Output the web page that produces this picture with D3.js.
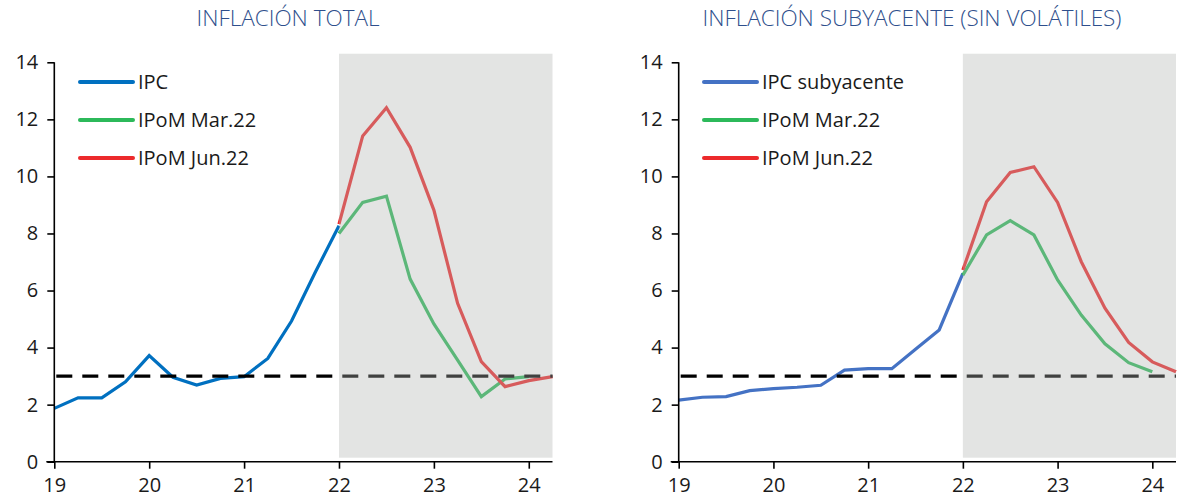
<!DOCTYPE html>
<html>
<head>
<meta charset="utf-8">
<script src="https://cdn.jsdelivr.net/npm/d3@7"></script>
<style>
  html, body { margin: 0; padding: 0; background: #fff; }
  svg { display: block; font-family: "Open Sans", "Noto Sans", sans-serif; }
</style>
</head>
<body>
<svg id="chart" width="1183" height="502"></svg>
<script>
// Quarterly dates (fractional years, 19 = 2019)
const histQuarters = [19, 19.25, 19.5, 19.75, 20, 20.25, 20.5, 20.75, 21, 21.25, 21.5, 21.75, 22];
const projQuarters = [22, 22.25, 22.5, 22.75, 23, 23.25, 23.5, 23.75, 24, 24.25];

// Headline inflation (annual %)
const ipc = [1.87, 2.24, 2.24, 2.80, 3.72, 2.96, 2.69, 2.92, 2.98, 3.62, 4.93, 6.64, 8.27];
const ipomMarTotal = [8.0, 9.09, 9.31, 6.40, 4.83, 3.56, 2.28, 2.90, 2.98];
const ipomJunTotal = [8.33, 11.42, 12.41, 11.02, 8.82, 5.55, 3.51, 2.63, 2.84, 2.98];

// Core inflation excluding volatiles (annual %)
const ipcCore = [2.16, 2.26, 2.28, 2.49, 2.56, 2.61, 2.68, 3.21, 3.26, 3.26, 3.94, 4.62, 6.60];
const ipomMarCore = [6.54, 7.95, 8.45, 7.95, 6.37, 5.14, 4.13, 3.47, 3.15];
const ipomJunCore = [6.72, 9.11, 10.14, 10.34, 9.09, 7.01, 5.38, 4.18, 3.50, 3.15];

const yTicks = [0, 2, 4, 6, 8, 10, 12, 14];
const xTicks = [19, 20, 21, 22, 23, 24];
const target = 3;
const projectionStart = 22;

const titles = ["INFLACIÓN TOTAL", "INFLACIÓN SUBYACENTE (SIN VOLÁTILES)"];
const legendLabels = [
  ["IPC", "IPoM Mar.22", "IPoM Jun.22"],
  ["IPC subyacente", "IPoM Mar.22", "IPoM Jun.22"]
];

const colors = {
  ipc: "#0070c0",
  ipcCore: "#4472c4",
  mar: "#2cb95a",
  jun: "#ec2a2c",
  title: "#2f4f8c"
};

const svg = d3.select("#chart");

const panels = [
  {
    left: 54.3, right: 552.5, title: titles[0], titleX: 288,
    legend: legendLabels[0], legendX: 80,
    series: [
      { x: histQuarters, y: ipc, color: colors.ipc },
      { x: projQuarters.slice(0, ipomMarTotal.length), y: ipomMarTotal, color: colors.mar },
      { x: projQuarters, y: ipomJunTotal, color: colors.jun }
    ]
  },
  {
    left: 678.7, right: 1176, title: titles[1], titleX: 912,
    legend: legendLabels[1], legendX: 704,
    series: [
      { x: histQuarters, y: ipcCore, color: colors.ipcCore },
      { x: projQuarters.slice(0, ipomMarCore.length), y: ipomMarCore, color: colors.mar },
      { x: projQuarters, y: ipomJunCore, color: colors.jun }
    ]
  }
];

const plotTop = 62.3, plotBottom = 461.7;

panels.forEach(p => {
  const g = svg.append("g");
  const x = d3.scaleLinear().domain([19, 24.25]).range([p.left, p.right]);
  const y = d3.scaleLinear().domain([0, 14]).range([plotBottom, plotTop]);

  // title
  g.append("text")
    .attr("x", p.titleX).attr("y", 26)
    .attr("text-anchor", "middle")
    .attr("fill", colors.title)
    .attr("font-size", 22.5)
    .attr("font-weight", 300)
    .text(p.title);

  // series lines
  const line = d3.line().x(d => x(d[0])).y(d => y(d[1]));
  p.series.forEach(s => {
    g.append("path")
      .datum(s.x.map((v, i) => [v, s.y[i]]))
      .attr("d", line)
      .attr("fill", "none")
      .attr("stroke", s.color)
      .attr("stroke-width", 3.2)
      .attr("stroke-linejoin", "miter");
  });

  // inflation target
  g.append("line")
    .attr("x1", x(19) + 2).attr("x2", x(24.25))
    .attr("y1", y(target)).attr("y2", y(target))
    .attr("stroke", "#000")
    .attr("stroke-width", 3.2)
    .attr("stroke-dasharray", "16,10");

  // projection window shading
  g.append("rect")
    .attr("x", x(projectionStart))
    .attr("y", y(14.3))
    .attr("width", x(24.25) - x(projectionStart))
    .attr("height", y(0.14) - y(14.3))
    .attr("fill", "rgb(178,180,178)")
    .attr("fill-opacity", 0.36);

  // y axis
  const yAxis = d3.axisLeft(y).tickValues(yTicks).tickSize(7).tickPadding(9)
    .tickFormat(d3.format("d"));
  const ya = g.append("g").attr("transform", `translate(${p.left},0)`).call(yAxis);
  ya.select(".domain").attr("d", `M0,${plotTop}V${plotBottom}`);

  // x axis
  const xAxis = d3.axisBottom(x).tickValues(xTicks).tickSize(7).tickPadding(9)
    .tickFormat(d3.format("d"));
  const xa = g.append("g").attr("transform", `translate(0,${plotBottom})`).call(xAxis);
  xa.select(".domain").attr("d", `M${p.left - 8},0H${p.right}`);

  [ya, xa].forEach(a => {
    a.selectAll(".domain").attr("stroke", "#000").attr("stroke-width", 1.6);
    a.selectAll(".tick line").attr("stroke", "#000").attr("stroke-width", 1.6);
    a.selectAll(".tick text")
      .attr("fill", "#1a1a1a")
      .attr("font-size", 20)
      .attr("font-family", "\"Open Sans\", \"Noto Sans\", sans-serif");
  });

  // legend
  const rowY = [82, 120, 158];
  p.series.forEach((s, i) => {
    g.append("line")
      .attr("x1", p.legendX).attr("x2", p.legendX + 53)
      .attr("y1", rowY[i]).attr("y2", rowY[i])
      .attr("stroke", s.color)
      .attr("stroke-width", 4)
      .attr("stroke-linecap", "round");
    g.append("text")
      .attr("x", p.legendX + 58).attr("y", rowY[i])
      .attr("dy", "0.36em")
      .attr("fill", "#1a1a1a")
      .attr("font-size", 20)
      .text(p.legend[i]);
  });
});
</script>
</body>
</html>
